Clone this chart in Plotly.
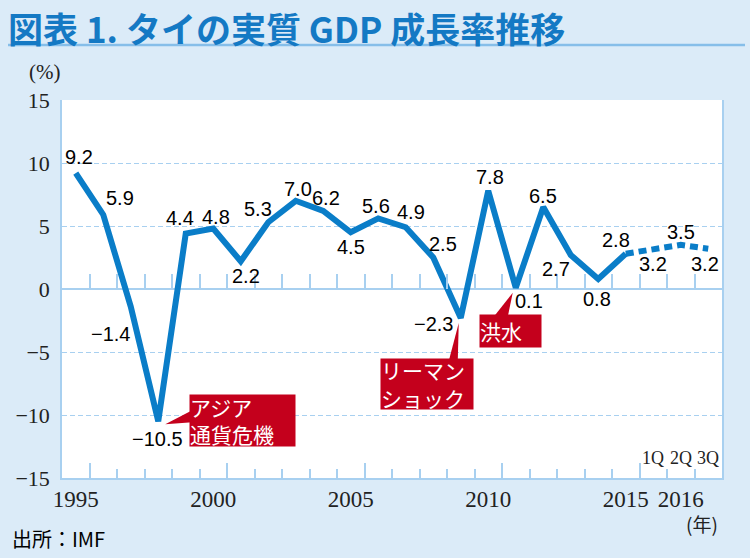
import plotly.graph_objects as go

# --- data -------------------------------------------------------------
years = ["1995", "1996", "1997", "1998", "1999", "2000", "2001", "2002",
         "2003", "2004", "2005", "2006", "2007", "2008", "2009", "2010",
         "2011", "2012", "2013", "2014", "2015"]
growth = [9.2, 5.9, -1.4, -10.5, 4.4, 4.8, 2.2, 5.3, 7.0, 6.2, 4.5,
          5.6, 4.9, 2.5, -2.3, 7.8, 0.1, 6.5, 2.7, 0.8, 2.8]

quarters = ["1Q", "2Q", "3Q"]
growth_2016 = [3.2, 3.5, 3.2]

year_ticks = ["1995", "2000", "2005", "2010", "2015", "2016"]

events = {"1998": "アジア<br>通貨危機",
          "2009": "リーマン<br>ショック",
          "2011": "洪水"}

# --- look -------------------------------------------------------------
BG = "#DBEBF8"
LINE = "#0A7DC8"
LIGHT = "#A8D0F0"
RED = "#C4001C"
SANS = "Liberation Sans, Arial, sans-serif"
SERIF = "Liberation Serif, Times New Roman, serif"
JP = "Noto Sans CJK JP"

W, H = 750, 558
ML, MR, MT, MB = 62, 28, 100, 80
PW, PH = W - ML - MR, H - MT - MB

cats = years + quarters
xi = {c: i for i, c in enumerate(cats)}
x_years = [xi[y] for y in years]
x_q = [xi[years[-1]]] + [xi[q] for q in quarters]
y_q = [growth[-1]] + growth_2016
values = dict(zip(years, growth)) | dict(zip(quarters, growth_2016))

# label offsets in pixels (dx right, dy down)
label_off = {
    "1995": (3, -16), "1996": (17, -17), "1997": (-20, 27), "1998": (-1, 18),
    "1999": (-6, -16), "2000": (3, -12), "2001": (5, 15), "2002": (-10, -13),
    "2003": (2, -12), "2004": (3, -13), "2005": (0, 15), "2006": (-2, -12),
    "2007": (5, -15), "2008": (10, -14), "2009": (-27, 6), "2010": (2, -14),
    "2011": (13, 13), "2012": (0, -11), "2013": (-15, 14), "2014": (-1, 20),
    "2015": (-10, -14), "1Q": (0, 15), "2Q": (0, -13), "3Q": (-3, 15),
}

fig = go.Figure()
fig.add_trace(go.Scatter(x=x_years, y=growth, mode="lines",
                         line=dict(color=LINE, width=6), hoverinfo="skip"))
fig.add_trace(go.Scatter(x=x_q, y=y_q, mode="lines",
                         line=dict(color=LINE, width=6, dash="8px,5px"),
                         hoverinfo="skip"))
# empty traces so the tick-only overlay axes get drawn
for ax in ("x2", "x3"):
    fig.add_trace(go.Scatter(x=[None], y=[None], xaxis=ax, mode="lines",
                             hoverinfo="skip"))

ann = []
for c in cats:
    v = values[c]
    dx, dy = label_off[c]
    ann.append(dict(x=xi[c], y=v, text=f"{v:.1f}".replace("-", "\u2212"),
                    showarrow=False, xshift=dx, yshift=-dy,
                    xanchor="center", yanchor="middle",
                    font=dict(family=SANS, size=20, color="black")))

# callout boxes: box offset (px right, px up), size, pointer path (px, up+)
callouts = {
    "1998": ((31, 27), (105, 51), "M 7,-3 L 34,11 L 34,-1 Z"),
    "2009": ((-81, -40), (92, 50), "M -2,-5 L -12,-43 L -3,-43 Z"),
    "2011": ((-37, -26), (61, 32), "M -3,-5 L -22,-29 L -8,-29 Z"),
}
shapes = []
for c, txt in events.items():
    (bx, by), (bw, bh), path = callouts[c]
    ann.append(dict(x=xi[c], y=values[c], text=txt, showarrow=False,
                    xanchor="left", yanchor="top", xshift=bx, yshift=by,
                    width=bw, height=bh, align="left", valign="middle",
                    bgcolor=RED, borderpad=0,
                    font=dict(family=JP, size=21, color="white")))
    shapes.append(dict(type="path", xref="x", yref="y",
                       xsizemode="pixel", ysizemode="pixel",
                       xanchor=xi[c], yanchor=values[c], path=path,
                       fillcolor=RED, line=dict(width=0), layer="above"))

for q in quarters:
    ann.append(dict(x=xi[q], y=0, yref="paper", text=q, showarrow=False,
                    xanchor="center", yanchor="bottom", yshift=8,
                    font=dict(family=SERIF, size=18, color="#222")))


def px_x(p):
    return (p - ML) / PW


def px_y(p):
    return (H - MB - p) / PH


ann += [
    dict(xref="paper", yref="paper", x=px_x(44), y=px_y(72), text="(%)",
         xanchor="center", yanchor="middle", showarrow=False,
         font=dict(family=SERIF, size=21, color="#222")),
    dict(xref="paper", yref="paper", x=px_x(702), y=px_y(523), text="(年)",
         xanchor="center", yanchor="middle", showarrow=False,
         font=dict(family=JP, size=19, color="#222")),
    dict(xref="paper", yref="paper", x=px_x(10), y=px_y(538), text="出所：IMF",
         xanchor="left", yanchor="middle", showarrow=False,
         font=dict(family=JP, size=20, color="black")),
    dict(xref="paper", yref="paper", x=px_x(6), y=px_y(27),
         text="図表 1. タイの実質 GDP 成長率推移",
         xanchor="left", yanchor="middle", showarrow=False,
         font=dict(family=JP, size=35, color="#1479C4", weight="bold")),
]

shapes.append(dict(type="line", xref="paper", yref="paper",
                   x0=px_x(8), x1=px_x(745), y0=px_y(45), y1=px_y(45),
                   line=dict(color="#86BEE9", width=2.5)))

boundaries = [i + 0.5 for i in range(len(cats) - 1)]
major_bounds = [b for b in boundaries if (b - 0.5) % 5 == 0]
xrange = [-0.5, len(cats) - 0.5]

fig.update_layout(
    width=W, height=H,
    margin=dict(l=ML, r=MR, t=MT, b=MB),
    paper_bgcolor=BG, plot_bgcolor="white",
    showlegend=False,
    annotations=ann, shapes=shapes,
    xaxis=dict(range=xrange, tickmode="array",
               tickvals=[xi[t] if t in xi else xi["2Q"] for t in year_ticks],
               ticktext=year_ticks, ticks="", showgrid=False, zeroline=False,
               showline=True, linecolor=LIGHT, linewidth=1.5,
               tickfont=dict(family=SERIF, size=23, color="#222"),
               minor=dict(tickmode="array", tickvals=boundaries,
                          ticks="inside", ticklen=9, tickwidth=1.5,
                          tickcolor=LIGHT, showgrid=False)),
    xaxis2=dict(overlaying="x", anchor="y", side="bottom",
                range=xrange, tickmode="array",
                tickvals=major_bounds, ticks="inside", ticklen=15,
                tickwidth=1.5, tickcolor=LIGHT, showticklabels=False,
                showgrid=False, zeroline=False, showline=False),
    xaxis3=dict(overlaying="x", anchor="free", position=0.5, side="bottom",
                range=xrange, tickmode="array",
                tickvals=boundaries, ticks="inside", ticklen=15,
                tickwidth=1.5, tickcolor=LIGHT, showticklabels=False,
                showgrid=False, zeroline=False, showline=False),
    yaxis=dict(range=[-15, 15], dtick=5, ticks="", showgrid=True,
               gridcolor=LIGHT, griddash="5px,3px", gridwidth=1,
               zeroline=True, zerolinecolor=LIGHT, zerolinewidth=1.5,
               showline=True, mirror=True, linecolor=LIGHT, linewidth=1.5,
               ticklabelstandoff=6,
               tickfont=dict(family=SERIF, size=22, color="#222")),
)

fig.write_html("out.html", config={"displayModeBar": False},
               post_script="document.body.style.margin='0';")
